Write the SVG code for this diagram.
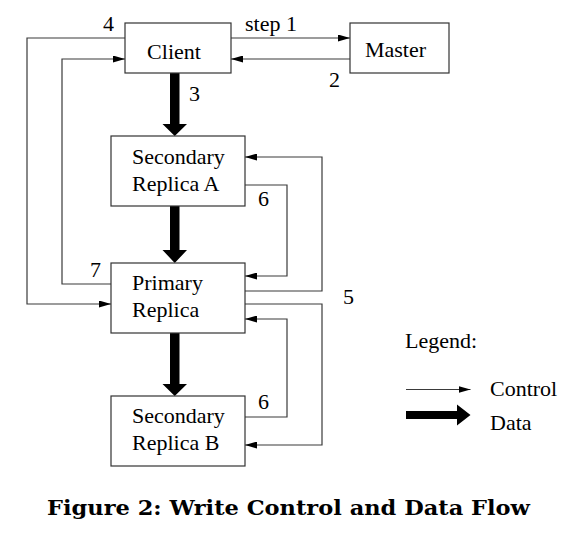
<svg xmlns="http://www.w3.org/2000/svg" width="570" height="543" viewBox="0 0 570 543">
<style>
.box{fill:#fff;stroke:#333;stroke-width:1.2}
.ln{fill:none;stroke:#3a3a3a;stroke-width:1.2}
.t{font-family:"Liberation Serif","Times New Roman",serif;font-size:22px;fill:#000}
.thick{fill:#000}
</style>
<defs>
<marker id="ah" viewBox="0 0 12 7" refX="12" refY="3.5" markerWidth="12" markerHeight="7" markerUnits="userSpaceOnUse" orient="auto">
<path d="M0,0 L12,3.5 L0,7 z" fill="#000"/>
</marker>
</defs>
<rect width="570" height="543" fill="#fff"/>
<g id="connectors">
<path class="ln" d="M231,38 H350" marker-end="url(#ah)"/>
<path class="ln" d="M350,59 H231" marker-end="url(#ah)"/>
<path class="ln" d="M125,38 H27 V304 H111" marker-end="url(#ah)"/>
<path class="ln" d="M111,284 H62 V59 H125" marker-end="url(#ah)"/>
<path class="ln" d="M245,291 H322 V157 H245" marker-end="url(#ah)"/>
<path class="ln" d="M245,185 H287 V276 H245" marker-end="url(#ah)"/>
<path class="ln" d="M245,304 H322 V445 H245" marker-end="url(#ah)"/>
<path class="ln" d="M245,417 H287 V319 H245" marker-end="url(#ah)"/>
<polygon class="thick" points="170,73 179.5,73 179.5,124 187,124 174.75,136 162.5,124 170,124"/>
<polygon class="thick" points="170,206 179.5,206 179.5,250 187,250 174.75,263 162.5,250 170,250"/>
<polygon class="thick" points="170,333 179.5,333 179.5,384 187,384 174.75,396 162.5,384 170,384"/>
<text class="t" x="245" y="31">step 1</text>
<text class="t" x="329" y="87">2</text>
<text class="t" x="189" y="101">3</text>
<text class="t" x="103" y="31">4</text>
<text class="t" x="343" y="304">5</text>
<text class="t" x="258" y="206">6</text>
<text class="t" x="258" y="409">6</text>
<text class="t" x="90" y="277">7</text>
</g>
<g id="client">
<rect class="box" x="125" y="23" width="106" height="50"/>
<text class="t" x="174" y="59" text-anchor="middle">Client</text>
</g>
<g id="master">
<rect class="box" x="350" y="23" width="99" height="50"/>
<text class="t" x="395.5" y="57" text-anchor="middle">Master</text>
</g>
<g id="secondaryA">
<rect class="box" x="111" y="136" width="134" height="70"/>
<text class="t" x="132" y="164">Secondary</text>
<text class="t" x="132" y="191">Replica A</text>
</g>
<g id="primary">
<rect class="box" x="111" y="263" width="134" height="70"/>
<text class="t" x="132" y="290">Primary</text>
<text class="t" x="132" y="317">Replica</text>
</g>
<g id="secondaryB">
<rect class="box" x="111" y="396" width="134" height="70"/>
<text class="t" x="132" y="423">Secondary</text>
<text class="t" x="132" y="450">Replica B</text>
</g>
<g id="legend">
<text class="t" x="405" y="348">Legend:</text>
<path class="ln" d="M406,389.5 H470.5" marker-end="url(#ah)"/>
<text class="t" x="490" y="396">Control</text>
<polygon class="thick" points="406,411 457,411 457,404.5 470.5,415 457,425.5 457,419 406,419"/>
<text class="t" x="490" y="430">Data</text>
</g>
<text x="47" y="515" font-family="DejaVu Serif, serif" font-weight="bold" font-size="20" textLength="483" lengthAdjust="spacingAndGlyphs">Figure 2: Write Control and Data Flow</text>
</svg>
